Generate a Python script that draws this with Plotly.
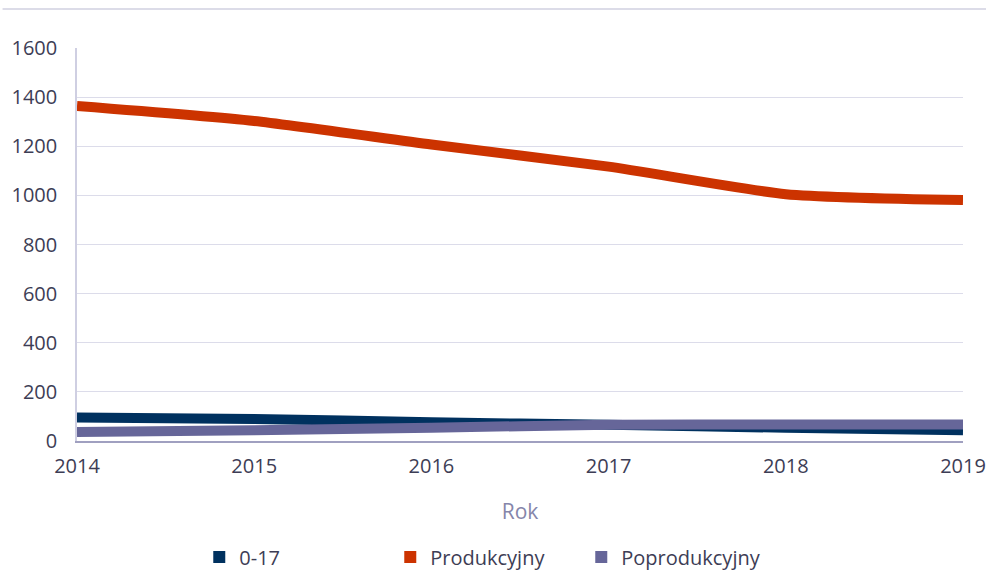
import plotly.graph_objects as go

years = [2014, 2015, 2016, 2017, 2018, 2019]
series_names = ["0-17", "Produkcyjny", "Poprodukcyjny"]
v_0_17 = [96, 90, 76, 66, 54, 44]
v_prod = [1364, 1303, 1207, 1117, 1005, 981]
v_poprod = [37, 44, 54, 66, 67, 67]
colors = ["#00315f", "#cc3300", "#666699"]
y_ticks = [0, 200, 400, 600, 800, 1000, 1200, 1400, 1600]
title_text = "Ludność gminy według ekonomicznych grup wieku w latach 2014-2019"

fig = go.Figure()
for name, vals, col in zip(series_names, [v_0_17, v_prod, v_poprod], colors):
    fig.add_trace(go.Scatter(x=years, y=vals, mode="lines", name=name,
                             line=dict(color=col, width=10, shape="spline", smoothing=0.6),
                             showlegend=False, hoverinfo="x+y+name"))
for name, col in zip(series_names, colors):
    fig.add_trace(go.Scatter(x=[None], y=[None], mode="markers", name=name,
                             marker=dict(symbol="square", color=col, size=12)))

fig.update_layout(
    width=986, height=571,
    margin=dict(l=77, r=23, t=48, b=130, autoexpand=False),
    paper_bgcolor="white", plot_bgcolor="white",
    font=dict(family="Open Sans, sans-serif", color="#3d3d55", size=20),
    xaxis=dict(range=[2014, 2019], tickvals=years, ticktext=[str(y) for y in years],
               showgrid=False, showline=True, linecolor="#a0a0c0", linewidth=1.5,
               ticks="", tickfont=dict(size=20, color="#3d3d55"),
               title=dict(text="Rok", font=dict(size=21, color="#8585aa"), standoff=27),
               zeroline=False, automargin=False, ticklabelstandoff=6),
    yaxis=dict(range=[0, 1600], tickvals=y_ticks, showgrid=True, gridcolor="#dcdcea",
               gridwidth=1, showline=True, linecolor="#cfcfe2", linewidth=1.5,
               ticks="", tickfont=dict(size=20, color="#3d3d55"), zeroline=False,
               ticklabelstandoff=14, automargin=False),
    legend=dict(orientation="h", x=0.138, xanchor="left", y=-0.295, yanchor="middle",
                entrywidth=146, entrywidthmode="pixels", font=dict(size=20, color="#3d3d55"),
                itemsizing="constant"),
    showlegend=True,
)
fig.add_annotation(text="<b>" + title_text + "</b>", xref="paper", yref="paper",
                   x=0.45, y=1.15, xanchor="center", yanchor="middle", showarrow=False,
                   font=dict(size=17, color="#111111"))
fig.add_shape(type="line", xref="paper", yref="paper", x0=-0.084, x1=1.03,
              y0=1 + 39 / 393, y1=1 + 39 / 393, line=dict(color="#dcdce8", width=2))

fig.write_html("out.html", config={"displayModeBar": False},
               post_script="document.body.style.margin='0';document.body.style.overflow='hidden';")
